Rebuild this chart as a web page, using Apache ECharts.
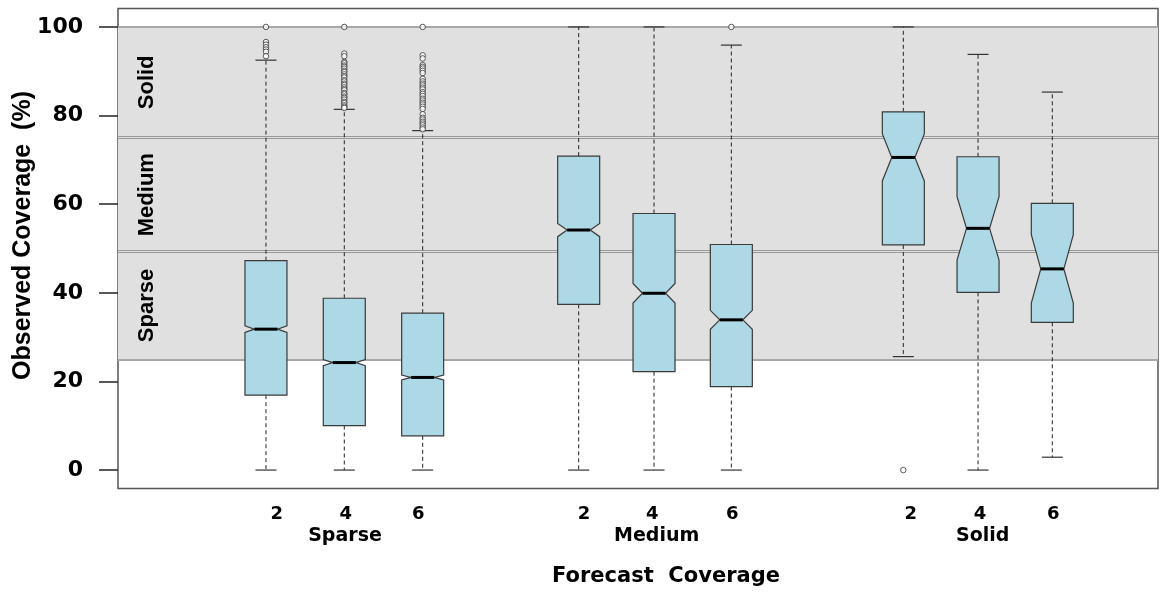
<!DOCTYPE html>
<html><head><meta charset="utf-8">
<script src="https://cdn.jsdelivr.net/npm/echarts@6/dist/echarts.min.js"></script>
<style>html,body{margin:0;padding:0;background:#fff}#c{width:1171px;height:594px}</style>
</head><body><div id="c"></div>
<script>
// ---- data ----
const groupNames = ['Sparse', 'Medium', 'Solid'];
const leadLabels = ['2', '4', '6', '2', '4', '6', '2', '4', '6'];
const boxPos = [1.897, 2.901, 3.906, 5.906, 6.872, 7.863, 10.068, 11.026, 11.978];
const labelPos = [2.035, 2.919, 3.85, 5.974, 6.85, 7.876, 10.163, 11.051, 11.991];
const groupPos = [2.91, 6.906, 11.086];
const whiskerLow  = [0, 0, 0, 0, 0, 0, 25.6, 0, 2.9];
const q1          = [16.9, 10.05, 7.73, 37.4, 22.2, 18.85, 50.8, 40.1, 33.35];
const median      = [31.8, 24.26, 20.9, 54.17, 39.9, 33.9, 70.55, 54.55, 45.4];
const q3          = [47.25, 38.77, 35.4, 70.85, 57.9, 50.9, 80.85, 70.7, 60.2];
const whiskerHigh = [92.5, 81.4, 76.6, 100, 100, 95.9, 100, 93.8, 85.3];
const notchHalf   = [0.75, 0.7, 0.56, 1.5, 2.2, 2.15, 5.3, 7.15, 7.7];
const outliers = [
  [100, 96.6, 96.0, 95.4, 94.9, 94.4, 93.4],
  [100, 94.0, 93.4, 92.1, 91.8, 91.3, 91.0, 90.6, 90.1, 89.8, 89.3, 88.9, 88.6, 88.0, 87.7, 87.2, 86.9, 86.4, 86.0, 85.7, 85.1, 84.8, 84.3, 84.0, 83.6, 83.1, 82.8, 82.3, 82.0, 81.7],
  [100, 93.6, 92.9, 91.4, 91.0, 90.6, 90.1, 89.6, 88.3, 87.7, 87.2, 86.8, 86.3, 85.9, 85.3, 84.9, 84.4, 83.8, 83.4, 82.9, 82.5, 82.0, 81.5, 80.3, 79.5, 79.1, 78.6, 78.2, 77.8, 77.3, 76.9],
  [], [], [100], [0], [], []
];
const yTicks = [0, 20, 40, 60, 80, 100];
const bandNames = ['Sparse', 'Medium', 'Solid'];
const bandEdges = [25, 49.3, 75, 100];

// ---- build ----
const boxData = boxPos.map((x, i) => [x, whiskerLow[i], q1[i], median[i], q3[i], whiskerHigh[i], notchHalf[i]]);
const outlierData = [];
outliers.forEach((arr, i) => arr.forEach(v => outlierData.push([boxPos[i], v])));

const XMAX = 13.333;
const bold = 'bold';
const tickFont = 'DejaVu Sans';

function nearestLabel(v, positions, labels) {
  let best = 0, d = Infinity;
  positions.forEach((p, i) => { const dd = Math.abs(p - v); if (dd < d) { d = dd; best = i; } });
  return d < 0.05 ? labels[best] : '';
}

const chart = echarts.init(document.getElementById('c'), null, {renderer: 'canvas'});
chart.setOption({
  animation: false,
  backgroundColor: '#ffffff',
  grid: {left: 118, right: 13, top: 8.5, bottom: 105.5, show: true, borderColor: '#555', borderWidth: 1.5, backgroundColor: 'transparent'},
  xAxis: [{
    type: 'value', min: 0, max: XMAX,
    axisLine: {show: false}, axisTick: {show: false}, splitLine: {show: false},
    axisLabel: {
      customValues: labelPos, margin: 17, color: '#000',
      fontFamily: tickFont, fontWeight: bold, fontSize: 18,
      formatter: v => nearestLabel(v, labelPos, leadLabels)
    }
  }, {
    type: 'value', min: 0, max: XMAX, position: 'bottom',
    axisLine: {show: false}, axisTick: {show: false}, splitLine: {show: false},
    axisLabel: {
      customValues: groupPos, margin: 38, color: '#000',
      fontFamily: tickFont, fontWeight: bold, fontSize: 19,
      formatter: v => nearestLabel(v, groupPos, groupNames)
    }
  }],
  yAxis: {
    type: 'value', min: -4.16, max: 104.16,
    axisLine: {show: false}, splitLine: {show: false},
    axisTick: {show: true, customValues: yTicks, length: 19, lineStyle: {color: '#222', width: 1.5}},
    axisLabel: {customValues: yTicks, margin: 35, color: '#000', fontFamily: tickFont, fontWeight: bold, fontSize: 22}
  },
  graphic: [
    {type: 'text', x: 23, y: 235.5, rotation: Math.PI / 2,
     style: {text: 'Observed Coverage  (%)', fill: '#000', font: 'bold 25px "Liberation Sans"', textAlign: 'center', textVerticalAlign: 'middle'}},
    {type: 'text', x: 666, y: 577,
     style: {text: 'Forecast  Coverage', fill: '#000', font: 'bold 21px "DejaVu Sans"', textAlign: 'center', textVerticalAlign: 'middle'}}
  ],
  series: [{
    type: 'line', data: [], silent: true,
    markArea: {
      silent: true,
      data: [
        [{yAxis: bandEdges[0], itemStyle: {color: '#e0e0e0'}}, {yAxis: bandEdges[3]}]
      ].concat(bandNames.map((n, i) => [
        {name: n, xAxis: 0, yAxis: bandEdges[i], itemStyle: {color: 'rgba(0,0,0,0)'}},
        {xAxis: 0.736, yAxis: bandEdges[i + 1]}
      ])),
      label: {show: true, position: 'inside', rotate: 90, color: '#000', fontFamily: 'Liberation Sans', fontWeight: 'bold', fontSize: 22, formatter: p => p.name}
    },
    markLine: {
      silent: true, symbol: 'none', label: {show: false},
      data: [
        {yAxis: 100, lineStyle: {color: '#a8a8a8', width: 1.8, type: 'solid'}},
        {yAxis: 25, lineStyle: {color: '#a8a8a8', width: 1.8, type: 'solid'}},
        {yAxis: 75.22, lineStyle: {color: '#999', width: 1, type: 'solid'}},
        {yAxis: 74.78, lineStyle: {color: '#999', width: 1, type: 'solid'}},
        {yAxis: 49.52, lineStyle: {color: '#999', width: 1, type: 'solid'}},
        {yAxis: 49.08, lineStyle: {color: '#999', width: 1, type: 'solid'}}
      ]
    }
  }, {
    type: 'custom', z: 5,
    data: boxData,
    encode: {x: 0, y: [1, 2, 3, 4, 5]},
    renderItem: function (params, api) {
      const xv = api.value(0);
      const wl = api.value(1), a = api.value(2), m = api.value(3), b = api.value(4), wh = api.value(5), n = api.value(6);
      const px = api.coord([xv, m])[0];
      const Y = v => api.coord([xv, v])[1];
      const w = 21, f = 0.55, cap = 10.5;
      const yq1 = Y(a), yq3 = Y(b), ym = Y(m), ynl = Y(m - n), ynh = Y(m + n), ywl = Y(wl), ywh = Y(wh);
      const dash = {stroke: '#222', lineWidth: 1, lineDash: [4, 3]};
      const solid = {stroke: '#333', lineWidth: 1.2};
      return {
        type: 'group',
        children: [
          {type: 'line', shape: {x1: px, y1: yq3, x2: px, y2: ywh}, style: dash},
          {type: 'line', shape: {x1: px, y1: yq1, x2: px, y2: ywl}, style: dash},
          {type: 'line', shape: {x1: px - cap, y1: ywh, x2: px + cap, y2: ywh}, style: solid},
          {type: 'line', shape: {x1: px - cap, y1: ywl, x2: px + cap, y2: ywl}, style: solid},
          {type: 'polygon', shape: {points: [
            [px - w, yq1], [px + w, yq1], [px + w, ynl], [px + w * f, ym], [px + w, ynh], [px + w, yq3],
            [px - w, yq3], [px - w, ynh], [px - w * f, ym], [px - w, ynl]
          ]}, style: {fill: '#add8e6', stroke: '#3a3a3a', lineWidth: 1.2}},
          {type: 'line', shape: {x1: px - w * f, y1: ym, x2: px + w * f, y2: ym}, style: {stroke: '#000', lineWidth: 3}}
        ]
      };
    }
  }, {
    type: 'scatter', z: 6,
    data: outlierData,
    symbol: 'circle', symbolSize: 5.5,
    itemStyle: {color: '#ffffff', borderColor: '#333', borderWidth: 1}
  }]
});
</script>
</body></html>
